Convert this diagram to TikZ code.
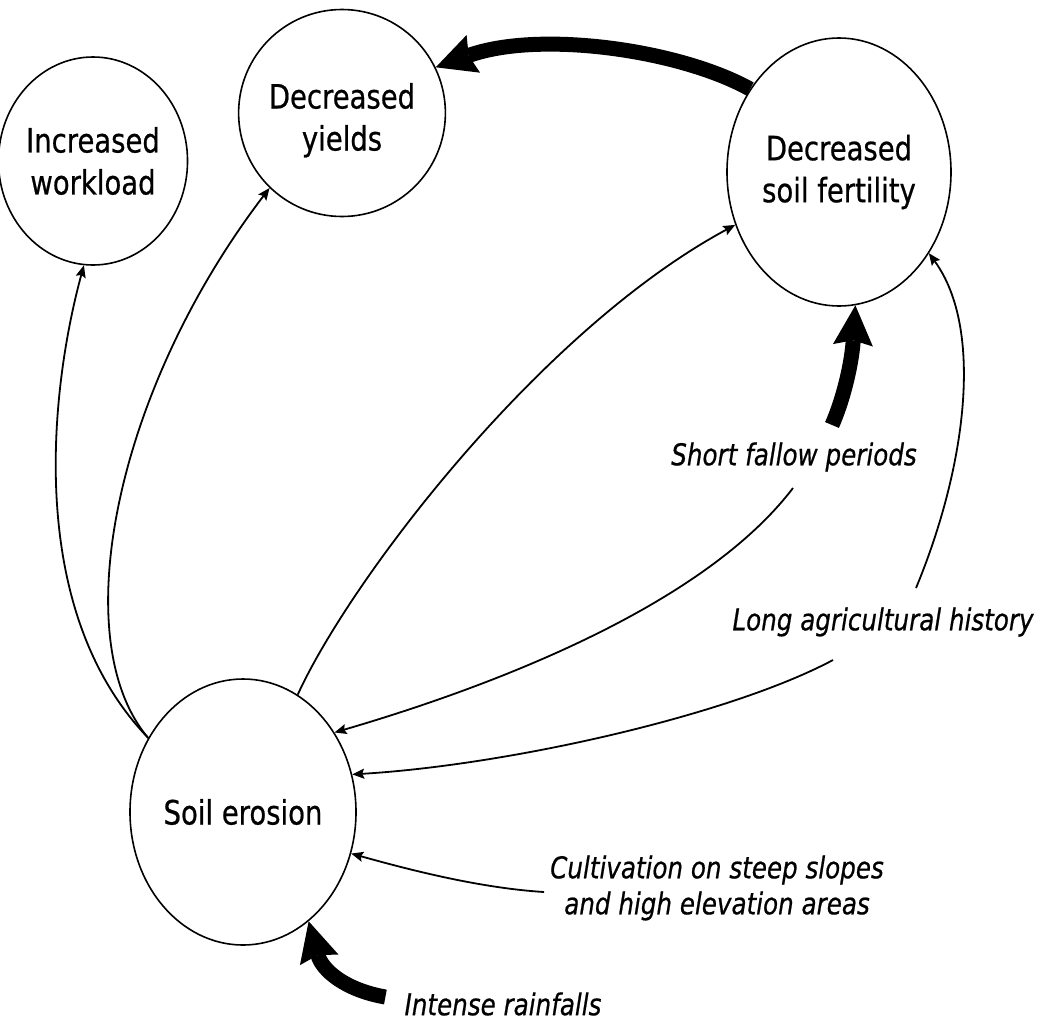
\documentclass[tikz,border=0pt]{standalone}
\usepackage{fontspec}
\setmainfont{DejaVu Sans}[FakeStretch=0.82,FakeBold=0.6]
\usetikzlibrary{arrows.meta,calc,shapes.geometric}

\begin{document}
\begin{tikzpicture}[x=1pt,y=-1pt,
  bubble/.style={draw,ellipse,line width=1.6pt,inner sep=0pt,align=center,
    font=\fontsize{33.5}{42}\selectfont},
  cause/.style={inner sep=0pt,align=center,
    font=\fontsize{30}{36}\selectfont\itshape},
  link/.style={line width=1.8pt,-{Stealth[length=12pt,width=10pt,inset=2pt]}},
  push/.style={line width=15pt,-{Stealth[length=40pt,width=40pt,inset=5pt,line width=0pt]}}]
\useasboundingbox (0,0) rectangle (1051,1023);

% effects
\node[bubble,minimum width=170pt,minimum height=208pt] (work) at (93,161) {Increased\\workload};
\node[bubble,minimum width=172pt,minimum height=207pt] (yield) at (342,113) {\rule{0pt}{40pt}Decreased\\yields};
\node[bubble,minimum width=224pt,minimum height=268pt] (fert) at (839,172) {Decreased\\soil fertility};
\node[bubble,minimum width=226pt,minimum height=266pt] (erosion) at (243,812) {Soil erosion};

% causes
\node[cause] (short) at (794,457) {Short fallow periods};
\node[cause] (long) at (883,622) {Long agricultural history};
\node[cause] (cultiv) at (717,888) {Cultivation on steep slopes\\and high elevation areas};
\node[cause] (rain) at (503,1004) {Intense rainfalls};

% strong links
\draw[push] (fert.137) .. controls (680,50) and (540,30) .. (yield.26);
\draw[push] ($(short.center)+(38,-32)$) .. controls (845,395) and (852,360) .. (fert.-83);
\draw[push] ($(rain.west)+(-19,-7)$) .. controls (345,990) and (322,970) .. (erosion.-59);

% links from erosion
\draw[link] (erosion.142) .. controls (25,610) and (50,390) .. (work.265);
\draw[link] (erosion.142) .. controls (65,640) and (115,390) .. (yield.226);
\draw[link] (erosion.65) .. controls (350,580) and (540,330) .. (fert.207);

% links into erosion and fertility
\draw[link] ($(short.center)+(-1,31)$) .. controls (700,610) and (480,690) .. (erosion.41);
\draw[link] ($(long.center)+(-50,38)$) .. controls (730,715) and (510,765) .. (erosion.19);
\draw[link] ($(long.center)+(33,-34)$) .. controls (965,470) and (985,330) .. ($(fert.-50)+(10,-14)$);
\draw[link] ($(cultiv.west)+(-6,4)$) .. controls (480,888) and (410,870) .. (erosion.-21.5);
\end{tikzpicture}
\end{document}
